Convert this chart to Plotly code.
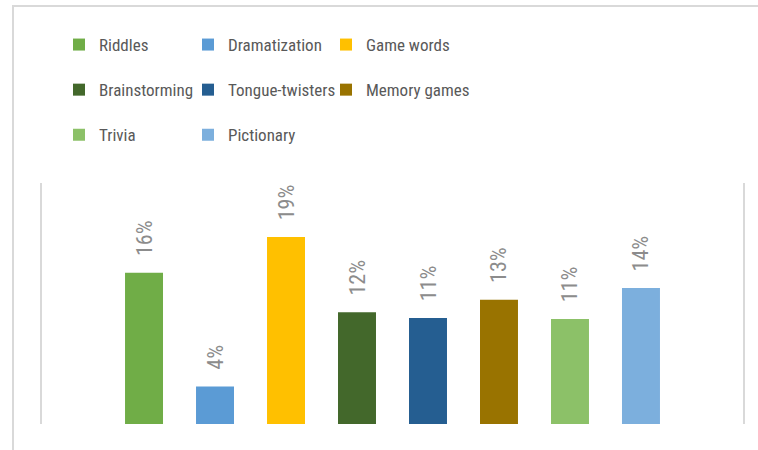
import plotly.graph_objects as go

categories = ["Riddles", "Dramatization", "Game words", "Brainstorming",
              "Tongue-twisters", "Memory games", "Trivia", "Pictionary"]
values = [0.157, 0.039, 0.194, 0.116, 0.110, 0.129, 0.109, 0.141]
colors = ["#70AD47", "#5B9BD5", "#FFC000", "#43682B",
          "#255E91", "#997300", "#8CC168", "#7CAFDD"]
legend_cols = ["legend", "legend2", "legend3", "legend", "legend2", "legend3", "legend", "legend2"]

W, H = 758, 450
L, R, T, B = 42, 15, 183, 26
pw, ph = W - L - R, H - T - B

FONT = "Liberation Sans Narrow, Arial Narrow, Roboto Condensed, Roboto, sans-serif"

fig = go.Figure()
for cat, val, col, lg in zip(categories, values, colors, legend_cols):
    fig.add_trace(go.Bar(
        x=[cat], y=[val], name=cat, marker_color=col, marker_line_width=0,
        width=0.535, legend=lg, legendgroup=cat,
        texttemplate="\u00a0\u00a0\u2006%{y:.0%}", textposition="outside", textangle=-90,
        textfont=dict(family=FONT, size=22, color="#8c8c8c"),
        constraintext="none", cliponaxis=False,
    ))

def py(pix):
    return 1 + (T - pix) / ph

def px(pix):
    return (pix - L) / pw

leg_common = dict(orientation="v", xanchor="left", yanchor="top",
                  itemwidth=30, tracegroupgap=20,
                  font=dict(family=FONT, size=17, color="#595959"),
                  bgcolor="rgba(0,0,0,0)", traceorder="grouped")

LEG_TOP = 27
fig.update_layout(
    width=W, height=H,
    margin=dict(l=L, r=R, t=T, b=B),
    paper_bgcolor="white", plot_bgcolor="white",
    barmode="overlay",
    showlegend=True,
    legend=dict(x=px(59), y=py(LEG_TOP), **leg_common),
    legend2=dict(x=px(188), y=py(LEG_TOP), **leg_common),
    legend3=dict(x=px(326), y=py(LEG_TOP), **leg_common),
    xaxis=dict(type="category", categoryorder="array", categoryarray=categories,
               range=[-1.437, 8.437], showticklabels=False, showgrid=False,
               zeroline=False, showline=False, ticks=""),
    yaxis=dict(range=[0, 0.25], showticklabels=False, showgrid=False, zeroline=False,
               showline=True, mirror=True, linecolor="#d9d9d9", linewidth=2, ticks=""),
    shapes=[dict(type="rect", xref="paper", yref="paper",
                 x0=px(13), x1=1.5, y0=-0.5, y1=py(6),
                 line=dict(color="#d9d9d9", width=2), fillcolor="rgba(0,0,0,0)")],
)

fig.write_html("out.html", config={"displayModeBar": False},
               post_script="document.body.style.margin='0';")
